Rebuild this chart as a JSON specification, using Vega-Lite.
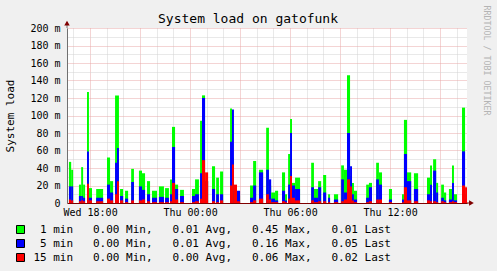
{
  "$schema": "https://vega.github.io/schema/vega-lite/v6.json",
  "width": 400,
  "height": 175,
  "autosize": {"type": "none"},
  "padding": {"left": 67, "top": 28, "right": 30, "bottom": 68},
  "background": "#f0f0f0",
  "title": {"text": "System load on gatofunk", "font": "DejaVu Sans Mono", "fontSize": 13, "fontWeight": "normal", "color": "#000000", "anchor": "middle", "dx": -19, "offset": -21},
  "config": {"view": {"stroke": null, "fill": "#ffffff"}},
  "layer": [
    {
      "data": {"values": [
        {"start": "2010-03-10T16:44", "end": "2010-03-10T16:52", "m1": 0.047, "m5": 0.019, "m15": 0.004},
        {"start": "2010-03-10T16:52", "end": "2010-03-10T16:59", "m1": 0.038, "m5": 0.019, "m15": 0.003},
        {"start": "2010-03-10T17:20", "end": "2010-03-10T17:28", "m1": 0.021, "m5": 0.008, "m15": 0.002},
        {"start": "2010-03-10T17:28", "end": "2010-03-10T17:35", "m1": 0.041, "m5": 0.008, "m15": 0.003},
        {"start": "2010-03-10T17:35", "end": "2010-03-10T17:42", "m1": 0.021, "m5": 0.006, "m15": 0.002},
        {"start": "2010-03-10T17:49", "end": "2010-03-10T17:56", "m1": 0.127, "m5": 0.059, "m15": 0.022},
        {"start": "2010-03-10T17:56", "end": "2010-03-10T18:07", "m1": 0.017, "m5": 0.006, "m15": 0.003},
        {"start": "2010-03-10T18:22", "end": "2010-03-10T18:47", "m1": 0.016, "m5": 0.006, "m15": 0.002},
        {"start": "2010-03-10T19:01", "end": "2010-03-10T19:12", "m1": 0.052, "m5": 0.021, "m15": 0.005},
        {"start": "2010-03-10T19:12", "end": "2010-03-10T19:23", "m1": 0.025, "m5": 0.012, "m15": 0.003},
        {"start": "2010-03-10T19:30", "end": "2010-03-10T19:37", "m1": 0.123, "m5": 0.046, "m15": 0.010},
        {"start": "2010-03-10T19:37", "end": "2010-03-10T19:44", "m1": 0.123, "m5": 0.063, "m15": 0.025},
        {"start": "2010-03-10T19:48", "end": "2010-03-10T19:59", "m1": 0.016, "m5": 0.008, "m15": 0.003},
        {"start": "2010-03-10T20:06", "end": "2010-03-10T20:17", "m1": 0.014, "m5": 0.005, "m15": 0.001},
        {"start": "2010-03-10T20:28", "end": "2010-03-10T20:38", "m1": 0.039, "m5": 0.024, "m15": 0.003},
        {"start": "2010-03-10T20:56", "end": "2010-03-10T21:07", "m1": 0.037, "m5": 0.019, "m15": 0.003},
        {"start": "2010-03-10T21:07", "end": "2010-03-10T21:18", "m1": 0.034, "m5": 0.015, "m15": 0.004},
        {"start": "2010-03-10T21:25", "end": "2010-03-10T21:36", "m1": 0.025, "m5": 0.010, "m15": 0.002},
        {"start": "2010-03-10T21:43", "end": "2010-03-10T22:01", "m1": 0.014, "m5": 0.006, "m15": 0.001},
        {"start": "2010-03-10T22:08", "end": "2010-03-10T22:26", "m1": 0.019, "m5": 0.007, "m15": 0.001},
        {"start": "2010-03-10T22:30", "end": "2010-03-10T22:44", "m1": 0.017, "m5": 0.006, "m15": 0.001},
        {"start": "2010-03-10T22:48", "end": "2010-03-10T22:55", "m1": 0.027, "m5": 0.010, "m15": 0.002},
        {"start": "2010-03-10T22:55", "end": "2010-03-10T23:06", "m1": 0.087, "m5": 0.064, "m15": 0.023},
        {"start": "2010-03-10T23:06", "end": "2010-03-10T23:17", "m1": 0.021, "m5": 0.016, "m15": 0.004},
        {"start": "2010-03-10T23:24", "end": "2010-03-10T23:38", "m1": 0.015, "m5": 0.008, "m15": 0.001},
        {"start": "2010-03-11T00:07", "end": "2010-03-11T00:18", "m1": 0.016, "m5": 0.008, "m15": 0.001},
        {"start": "2010-03-11T00:18", "end": "2010-03-11T00:32", "m1": 0.027, "m5": 0.010, "m15": 0.002},
        {"start": "2010-03-11T00:36", "end": "2010-03-11T00:43", "m1": 0.094, "m5": 0.034, "m15": 0.005},
        {"start": "2010-03-11T00:43", "end": "2010-03-11T00:54", "m1": 0.123, "m5": 0.120, "m15": 0.049},
        {"start": "2010-03-11T00:54", "end": "2010-03-11T01:05", "m1": 0.025, "m5": 0.025, "m15": 0.035},
        {"start": "2010-03-11T01:19", "end": "2010-03-11T01:30", "m1": 0.042, "m5": 0.016, "m15": 0.002},
        {"start": "2010-03-11T01:34", "end": "2010-03-11T01:44", "m1": 0.029, "m5": 0.010, "m15": 0.001},
        {"start": "2010-03-11T01:48", "end": "2010-03-11T01:59", "m1": 0.036, "m5": 0.010, "m15": 0.003},
        {"start": "2010-03-11T02:24", "end": "2010-03-11T02:31", "m1": 0.108, "m5": 0.070, "m15": 0.020},
        {"start": "2010-03-11T02:31", "end": "2010-03-11T02:38", "m1": 0.052, "m5": 0.107, "m15": 0.044},
        {"start": "2010-03-11T02:38", "end": "2010-03-11T02:49", "m1": 0.020, "m5": 0.014, "m15": 0.021},
        {"start": "2010-03-11T02:49", "end": "2010-03-11T03:00", "m1": 0.008, "m5": 0.014, "m15": 0.002},
        {"start": "2010-03-11T03:36", "end": "2010-03-11T03:47", "m1": 0.020, "m5": 0.006, "m15": 0.001},
        {"start": "2010-03-11T03:47", "end": "2010-03-11T03:58", "m1": 0.048, "m5": 0.020, "m15": 0.003},
        {"start": "2010-03-11T04:08", "end": "2010-03-11T04:23", "m1": 0.038, "m5": 0.035, "m15": 0.005},
        {"start": "2010-03-11T04:34", "end": "2010-03-11T04:44", "m1": 0.086, "m5": 0.038, "m15": 0.010},
        {"start": "2010-03-11T04:44", "end": "2010-03-11T04:52", "m1": 0.020, "m5": 0.027, "m15": 0.004},
        {"start": "2010-03-11T04:52", "end": "2010-03-11T05:06", "m1": 0.012, "m5": 0.005, "m15": 0.001},
        {"start": "2010-03-11T05:06", "end": "2010-03-11T05:17", "m1": 0.014, "m5": 0.003, "m15": 0.001},
        {"start": "2010-03-11T05:31", "end": "2010-03-11T05:42", "m1": 0.035, "m5": 0.014, "m15": 0.002},
        {"start": "2010-03-11T05:42", "end": "2010-03-11T05:49", "m1": 0.010, "m5": 0.003, "m15": 0.001},
        {"start": "2010-03-11T05:53", "end": "2010-03-11T06:00", "m1": 0.056, "m5": 0.021, "m15": 0.005},
        {"start": "2010-03-11T06:00", "end": "2010-03-11T06:07", "m1": 0.096, "m5": 0.080, "m15": 0.031},
        {"start": "2010-03-11T06:07", "end": "2010-03-11T06:18", "m1": 0.023, "m5": 0.020, "m15": 0.006},
        {"start": "2010-03-11T06:18", "end": "2010-03-11T06:36", "m1": 0.029, "m5": 0.016, "m15": 0.003},
        {"start": "2010-03-11T07:16", "end": "2010-03-11T07:26", "m1": 0.046, "m5": 0.018, "m15": 0.003},
        {"start": "2010-03-11T07:26", "end": "2010-03-11T07:41", "m1": 0.016, "m5": 0.006, "m15": 0.001},
        {"start": "2010-03-11T07:41", "end": "2010-03-11T07:52", "m1": 0.025, "m5": 0.018, "m15": 0.002},
        {"start": "2010-03-11T07:59", "end": "2010-03-11T08:10", "m1": 0.032, "m5": 0.012, "m15": 0.002},
        {"start": "2010-03-11T08:17", "end": "2010-03-11T08:24", "m1": 0.010, "m5": 0.006, "m15": 0.001},
        {"start": "2010-03-11T08:38", "end": "2010-03-11T08:53", "m1": 0.010, "m5": 0.004, "m15": 0.001},
        {"start": "2010-03-11T09:04", "end": "2010-03-11T09:14", "m1": 0.043, "m5": 0.027, "m15": 0.002},
        {"start": "2010-03-11T09:14", "end": "2010-03-11T09:25", "m1": 0.038, "m5": 0.012, "m15": 0.004},
        {"start": "2010-03-11T09:25", "end": "2010-03-11T09:36", "m1": 0.146, "m5": 0.080, "m15": 0.027},
        {"start": "2010-03-11T09:36", "end": "2010-03-11T09:43", "m1": 0.031, "m5": 0.042, "m15": 0.019},
        {"start": "2010-03-11T09:43", "end": "2010-03-11T09:50", "m1": 0.023, "m5": 0.010, "m15": 0.003},
        {"start": "2010-03-11T09:50", "end": "2010-03-11T10:01", "m1": 0.014, "m5": 0.004, "m15": 0.001},
        {"start": "2010-03-11T10:34", "end": "2010-03-11T10:44", "m1": 0.021, "m5": 0.006, "m15": 0.001},
        {"start": "2010-03-11T10:44", "end": "2010-03-11T10:55", "m1": 0.023, "m5": 0.018, "m15": 0.002},
        {"start": "2010-03-11T11:10", "end": "2010-03-11T11:20", "m1": 0.046, "m5": 0.027, "m15": 0.004},
        {"start": "2010-03-11T11:20", "end": "2010-03-11T11:31", "m1": 0.035, "m5": 0.021, "m15": 0.004},
        {"start": "2010-03-11T11:56", "end": "2010-03-11T12:07", "m1": 0.016, "m5": 0.004, "m15": 0.001},
        {"start": "2010-03-11T12:43", "end": "2010-03-11T12:50", "m1": 0.010, "m5": 0.004, "m15": 0.001},
        {"start": "2010-03-11T12:50", "end": "2010-03-11T13:01", "m1": 0.095, "m5": 0.056, "m15": 0.018},
        {"start": "2010-03-11T13:01", "end": "2010-03-11T13:16", "m1": 0.035, "m5": 0.025, "m15": 0.003},
        {"start": "2010-03-11T13:26", "end": "2010-03-11T13:41", "m1": 0.034, "m5": 0.016, "m15": 0.002},
        {"start": "2010-03-11T14:13", "end": "2010-03-11T14:24", "m1": 0.029, "m5": 0.010, "m15": 0.003},
        {"start": "2010-03-11T14:24", "end": "2010-03-11T14:31", "m1": 0.043, "m5": 0.021, "m15": 0.002},
        {"start": "2010-03-11T14:35", "end": "2010-03-11T14:46", "m1": 0.050, "m5": 0.037, "m15": 0.002},
        {"start": "2010-03-11T14:46", "end": "2010-03-11T14:53", "m1": 0.023, "m5": 0.012, "m15": 0.001},
        {"start": "2010-03-11T15:04", "end": "2010-03-11T15:14", "m1": 0.021, "m5": 0.006, "m15": 0.002},
        {"start": "2010-03-11T15:14", "end": "2010-03-11T15:22", "m1": 0.012, "m5": 0.003, "m15": 0.001},
        {"start": "2010-03-11T15:32", "end": "2010-03-11T15:43", "m1": 0.016, "m5": 0.004, "m15": 0.001},
        {"start": "2010-03-11T15:43", "end": "2010-03-11T15:50", "m1": 0.043, "m5": 0.023, "m15": 0.002},
        {"start": "2010-03-11T15:50", "end": "2010-03-11T16:01", "m1": 0.010, "m5": 0.003, "m15": 0.001},
        {"start": "2010-03-11T16:19", "end": "2010-03-11T16:30", "m1": 0.109, "m5": 0.059, "m15": 0.020},
        {"start": "2010-03-11T16:30", "end": "2010-03-11T16:37", "m1": 0.010, "m5": 0.005, "m15": 0.018}
      ]},
      "transform": [{"fold": ["m1", "m5", "m15"], "as": ["series", "load"]}],
      "mark": {"type": "rect"},
      "encoding": {
        "x": {
          "field": "start", "type": "temporal",
          "scale": {"domain": [{"year": 2010, "month": 3, "date": 10, "hours": 16, "minutes": 37}, {"year": 2010, "month": 3, "date": 11, "hours": 16, "minutes": 37}]},
          "axis": {
            "title": null,
            "tickCount": 24,
            "labelExpr": "hours(datum.value) % 6 == 0 ? timeFormat(datum.value, '%a %H:%M') : ''",
            "labelFont": "DejaVu Sans Mono", "labelFontSize": 10, "labelColor": "#000000",
            "labelOverlap": false, "labelFlush": false, "labelPadding": 4,
            "ticks": false,
            "domainColor": "#800000", "domainWidth": 1,
            "grid": true, "gridDash": [1, 1], "gridOpacity": 1,
            "gridColor": {"condition": {"test": "hours(datum.value) % 3 == 0", "value": "#e8a8a8"}, "value": "#d2d2d2"}
          }
        },
        "x2": {"field": "end"},
        "y": {
          "field": "load", "type": "quantitative",
          "scale": {"domain": [0, 0.2], "nice": false},
          "axis": {
            "title": "System load",
            "titleFont": "DejaVu Sans Mono", "titleFontSize": 11, "titleFontWeight": "normal", "titleColor": "#000000", "titlePadding": 14,
            "tickCount": 20,
            "labelExpr": "round(datum.value * 1000) % 20 == 0 ? (datum.value == 0 ? '0' : round(datum.value * 1000) + ' m') : ''",
            "labelFont": "DejaVu Sans Mono", "labelFontSize": 10, "labelColor": "#000000",
            "labelOverlap": false, "labelFlush": false, "labelPadding": 7,
            "ticks": false,
            "domainColor": "#707070", "domainWidth": 1,
            "grid": true, "gridDash": [1, 1], "gridOpacity": 1,
            "gridColor": {"condition": {"test": "round(datum.value * 1000) % 20 == 0", "value": "#e8a8a8"}, "value": "#d2d2d2"}
          }
        },
        "y2": {"datum": 0},
        "color": {
          "field": "series", "type": "nominal",
          "scale": {"domain": ["m1", "m5", "m15"], "range": ["#00ff00", "#0000ff", "#ff0000"]},
          "legend": {
            "orient": "none", "legendX": -52, "legendY": 196, "direction": "vertical",
            "title": null, "padding": 0,
            "symbolType": "square", "symbolSize": 64, "symbolStrokeColor": "#000000", "symbolStrokeWidth": 1, "symbolOpacity": 1,
            "labelFont": "DejaVu Sans Mono", "labelFontSize": 11, "labelColor": "#000000", "labelAlign": "right", "labelOffset": 365, "labelLimit": 600,
            "rowPadding": 1,
            "labelExpr": "datum.label == 'm1' ? '1 min\u00a0\u00a0\u00a00.00 Min,\u00a0\u00a0\u00a00.01 Avg,\u00a0\u00a0\u00a00.45 Max,\u00a0\u00a0\u00a00.01 Last' : datum.label == 'm5' ? '5 min\u00a0\u00a0\u00a00.00 Min,\u00a0\u00a0\u00a00.01 Avg,\u00a0\u00a0\u00a00.16 Max,\u00a0\u00a0\u00a00.05 Last' : '15 min\u00a0\u00a0\u00a00.00 Min,\u00a0\u00a0\u00a00.00 Avg,\u00a0\u00a0\u00a00.06 Max,\u00a0\u00a0\u00a00.02 Last'"
          }
        }
      }
    },
    {
      "data": {"values": [{}]},
      "mark": {"type": "rule", "color": "#707070"},
      "encoding": {
        "x": {"datum": {"year": 2010, "month": 3, "date": 10, "hours": 16, "minutes": 37}, "type": "temporal"},
        "y": {"datum": 0.2, "type": "quantitative", "axis": null},
        "y2": {"datum": 0.206}
      }
    },
    {
      "data": {"values": [{}]},
      "mark": {"type": "rule", "color": "#800000"},
      "encoding": {
        "x": {"datum": {"year": 2010, "month": 3, "date": 11, "hours": 16, "minutes": 37}, "type": "temporal"},
        "x2": {"datum": {"year": 2010, "month": 3, "date": 11, "hours": 16, "minutes": 51}},
        "y": {"datum": 0, "type": "quantitative", "axis": null}
      }
    },
    {
      "data": {"values": [{}]},
      "mark": {"type": "point", "shape": "triangle-right", "filled": true, "size": 30, "color": "#800000", "opacity": 1},
      "encoding": {
        "x": {"datum": {"year": 2010, "month": 3, "date": 11, "hours": 16, "minutes": 53}, "type": "temporal"},
        "y": {"datum": 0, "type": "quantitative", "axis": null}
      }
    },
    {
      "data": {"values": [{}]},
      "mark": {"type": "point", "shape": "triangle-up", "filled": true, "size": 30, "color": "#800000", "opacity": 1},
      "encoding": {
        "x": {"datum": {"year": 2010, "month": 3, "date": 10, "hours": 16, "minutes": 37}, "type": "temporal"},
        "y": {
          "datum": 0.2055, "type": "quantitative",
          "axis": {
            "orient": "right", "title": "RRDTOOL / TOBI OETIKER",
            "titleX": 18, "titleY": -23, "titleAngle": 90, "titleAlign": "left", "titleBaseline": "middle",
            "titleFont": "DejaVu Sans Mono", "titleFontSize": 8.3, "titleFontWeight": "normal", "titleColor": "#b4b4b4",
            "labels": false, "ticks": false, "domain": false, "grid": false
          }
        }
      }
    }
  ],
  "resolve": {"axis": {"y": "independent"}}
}
